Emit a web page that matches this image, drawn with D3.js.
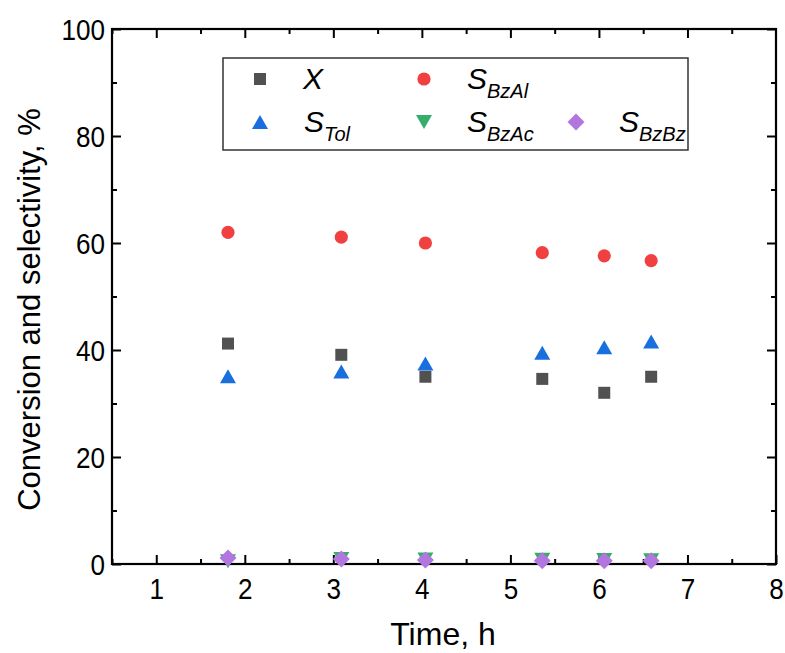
<!DOCTYPE html>
<html>
<head>
<meta charset="utf-8">
<script src="https://cdn.jsdelivr.net/npm/d3@7/dist/d3.min.js"></script>
<style>
  html, body { margin: 0; padding: 0; background: #fff; }
  svg { display: block; font-family: "Liberation Sans", Arial, sans-serif; }
</style>
</head>
<body>
<svg id="chart" width="785" height="653"></svg>
<script>
// Reaction time (h) and conversion / selectivity (%)
const times   = [1.81, 3.09, 4.04, 5.36, 6.06, 6.59];
const convX   = [41.2, 39.1, 35.0, 34.6, 32.0, 35.0];
const selBzAl = [62.0, 61.1, 60.0, 58.2, 57.6, 56.7];
const selTol  = [35.1, 36.0, 37.5, 39.5, 40.5, 41.6];
const selBzAc = [0.5, 0.95, 0.85, 0.8, 0.75, 0.7];
const selBzBz = [1.1, 0.95, 0.75, 0.6, 0.6, 0.6];

const xTicks = [1, 2, 3, 4, 5, 6, 7, 8];
const yTicks = [0, 20, 40, 60, 80, 100];

const series = [
  { values: convX,   shape: "square",   color: "#515151", label: "X",  sub: null },
  { values: selBzAl, shape: "circle",   color: "#F14040", label: "S",  sub: "BzAl" },
  { values: selTol,  shape: "triUp",    color: "#1A6FDF", label: "S",  sub: "Tol" },
  { values: selBzAc, shape: "triDown",  color: "#37AD6B", label: "S",  sub: "BzAc" },
  { values: selBzBz, shape: "diamond",  color: "#B177DE", label: "S",  sub: "BzBz" }
];

const svg = d3.select("#chart");
const margin = { left: 112, right: 9, top: 29, bottom: 89 };
const W = 785, H = 653;
const x = d3.scaleLinear().domain([0.5, 8]).range([margin.left, W - margin.right]);
const y = d3.scaleLinear().domain([0, 100]).range([H - margin.bottom, margin.top]);

// tick labels are drawn slightly condensed
const tickFont = 29, tickSqueeze = 0.9;

// marker shapes, centred on their bounding box
function shapePath(shape) {
  switch (shape) {
    case "square":  return "M-6,-6H6V6H-6Z";
    case "circle":  return d3.symbol(d3.symbolCircle, Math.PI * 6.6 * 6.6)();
    case "triUp":   return "M0,-7L8,7L-8,7Z";
    case "triDown": return "M0,7L8,-7L-8,-7Z";
    case "diamond": return "M0,-8.5L8.5,0L0,8.5L-8.5,0Z";
  }
}

const plot = svg.append("g");

// axes with inward ticks (major + minor) on all four sides
const xMinor = d3.range(0.5, 8.01, 0.5).filter(v => !Number.isInteger(v));
const yMinor = d3.range(10, 100, 20);

function axisGroup(axisFn, scale, ticks, len, transform, labels) {
  const a = axisFn(scale).tickValues(ticks).tickSizeInner(-len).tickSizeOuter(0)
    .tickPadding(len + 10);
  if (!labels) a.tickFormat("");
  const g = plot.append("g").attr("transform", transform).call(a);
  g.select(".domain").remove();
  g.selectAll(".tick line").attr("stroke", "#000").attr("stroke-width", 2);
  g.selectAll(".tick text").attr("fill", "#000").style("font-size", tickFont + "px")
    .style("font-family", "Liberation Sans, Arial, sans-serif");
  return g;
}
const bottomY = y(0), topY = y(100), leftX = x(0.5), rightX = x(8);

axisGroup(d3.axisBottom, x, xTicks, 9, `translate(0,${bottomY})`, true)
  .selectAll(".tick text").attr("dy", "0.95em").attr("y", 7)
  .attr("transform", `scale(${tickSqueeze},1)`);
axisGroup(d3.axisBottom, x, xMinor, 5, `translate(0,${bottomY})`, false);
axisGroup(d3.axisTop, x, xTicks.slice(0, -1), -9, `translate(0,${topY})`, false)
  .selectAll(".tick line").attr("y2", 9);
axisGroup(d3.axisTop, x, xMinor, -5, `translate(0,${topY})`, false)
  .selectAll(".tick line").attr("y2", 5);

axisGroup(d3.axisLeft, y, yTicks, 9, `translate(${leftX},0)`, true)
  .selectAll(".tick text").attr("x", -7 / tickSqueeze).attr("dy", "0.36em")
  .attr("transform", `scale(${tickSqueeze},1)`);
axisGroup(d3.axisLeft, y, yMinor, 5, `translate(${leftX},0)`, false);
axisGroup(d3.axisRight, y, yTicks, 9, `translate(${rightX},0)`, false)
  .selectAll(".tick line").attr("x2", -9);
axisGroup(d3.axisRight, y, yMinor, 5, `translate(${rightX},0)`, false)
  .selectAll(".tick line").attr("x2", -5);

// frame
plot.append("rect")
  .attr("x", leftX).attr("y", topY)
  .attr("width", rightX - leftX).attr("height", bottomY - topY)
  .attr("fill", "none").attr("stroke", "#000").attr("stroke-width", 2.2);

// data markers
series.forEach(s => {
  plot.append("g").selectAll("path")
    .data(times.map((t, i) => [t, s.values[i]]))
    .join("path")
    .attr("d", shapePath(s.shape))
    .attr("transform", d => `translate(${x(d[0])},${y(d[1])})`)
    .attr("fill", s.color);
});

// axis titles
svg.append("text")
  .attr("x", 443).attr("y", 645)
  .attr("text-anchor", "middle").style("font-size", "32px")
  .text("Time, h");
svg.append("text")
  .attr("transform", `translate(40,${(topY + bottomY) / 2 + 13}) rotate(-90)`)
  .attr("text-anchor", "middle").style("font-size", "31px")
  .text("Conversion and selectivity, %");

// legend
const legend = svg.append("g");
legend.append("rect")
  .attr("x", 223).attr("y", 58).attr("width", 465).attr("height", 92)
  .attr("fill", "#fff").attr("stroke", "#333").attr("stroke-width", 1.5);

const legendPos = [
  { sx: 260, ty: 79, tx: 303 },
  { sx: 424, ty: 79, tx: 467 },
  { sx: 260, ty: 122, tx: 304 },
  { sx: 424, ty: 122, tx: 467 },
  { sx: 576, ty: 122, tx: 619 }
];
series.forEach((s, i) => {
  const p = legendPos[i];
  legend.append("path")
    .attr("d", shapePath(s.shape))
    .attr("transform", `translate(${p.sx},${p.ty})`)
    .attr("fill", s.color);
  const t = legend.append("text")
    .attr("x", p.tx).attr("y", p.ty + 10)
    .style("font-size", "30px").style("font-style", "italic");
  t.append("tspan").text(s.label);
  if (s.sub) {
    t.append("tspan").attr("dy", 9).style("font-size", "20px").text(s.sub);
  }
});
</script>
</body>
</html>
